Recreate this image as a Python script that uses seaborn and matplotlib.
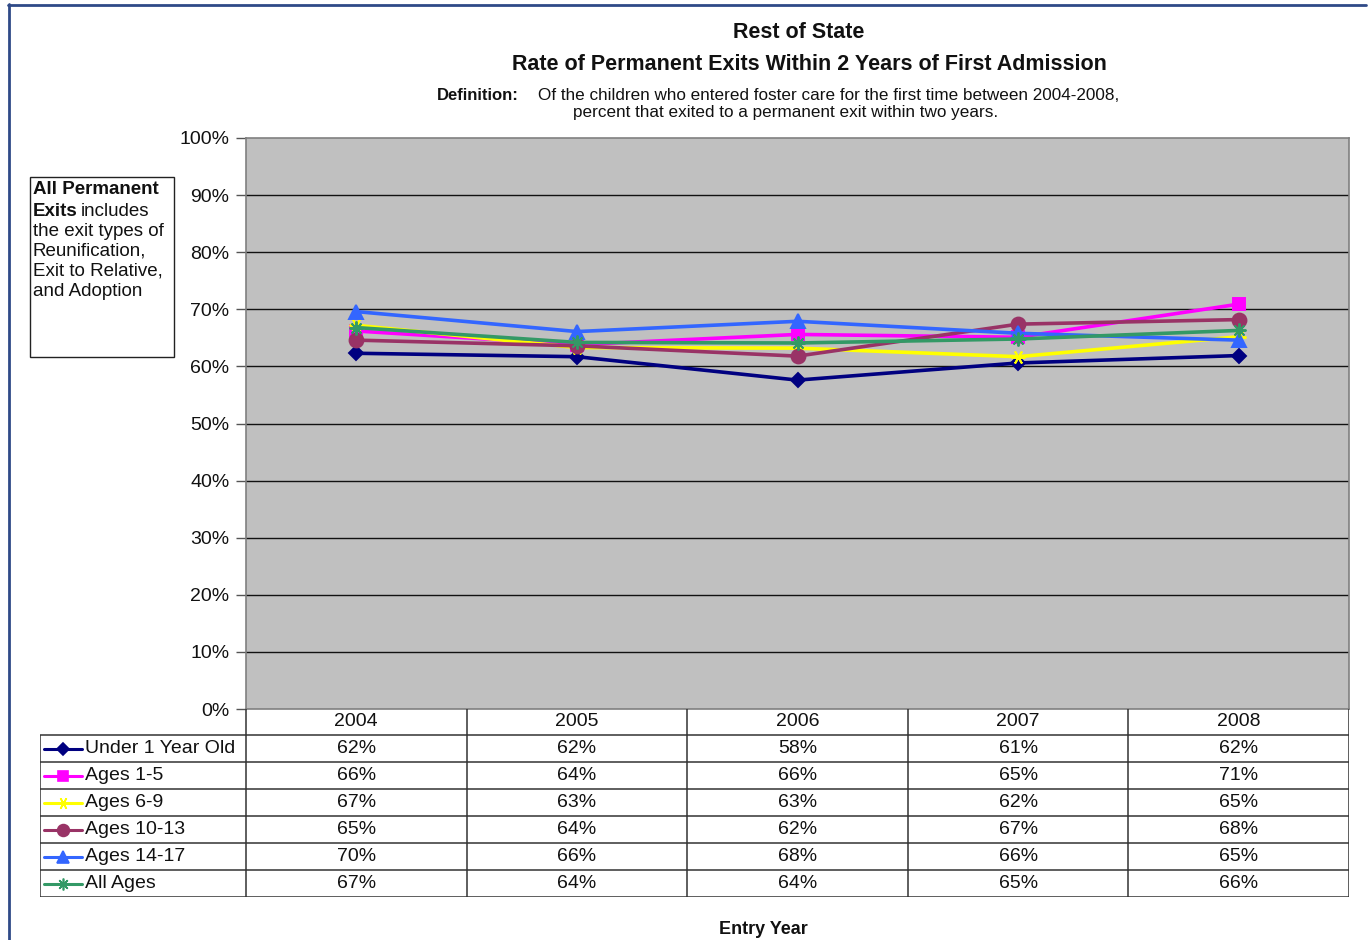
import numpy as np
import pandas as pd
import matplotlib
matplotlib.use("Agg")
import matplotlib.pyplot as plt
from matplotlib.lines import Line2D
from matplotlib.patches import Rectangle
import seaborn as sns

# ---- data -------------------------------------------------------------
years = ["2004", "2005", "2006", "2007", "2008"]
series_names = ["Under 1 Year Old", "Ages 1-5", "Ages 6-9",
                "Ages 10-13", "Ages 14-17", "All Ages"]
under_1 = [62.3, 61.7, 57.6, 60.6, 61.9]
ages_1_5 = [66.2, 63.8, 65.6, 65.1, 70.9]
ages_6_9 = [67.2, 63.3, 63.2, 61.7, 65.2]
ages_10_13 = [64.6, 63.6, 61.8, 67.4, 68.2]
ages_14_17 = [69.6, 66.1, 67.9, 65.8, 64.6]
all_ages = [66.8, 64.2, 64.1, 64.8, 66.3]
y_ticks = [0, 10, 20, 30, 40, 50, 60, 70, 80, 90, 100]

values = [under_1, ages_1_5, ages_6_9, ages_10_13, ages_14_17, all_ages]

# ---- styling ----------------------------------------------------------
colors = ["#000080", "#FF00FF", "#FFFF00", "#993366", "#3366FF", "#339966"]
markers = ["D", "s", (6, 2, 90), "o", "^", (8, 2, 0)]
msizes = [7, 9, 10, 10, 10, 10]

sns.set_style("white")
plt.rcParams["font.family"] = ["Liberation Sans", "DejaVu Sans"]

W, H = 1368, 940
fig = plt.figure(figsize=(W / 100, H / 100), dpi=100)
fig.patch.set_facecolor("white")


def fx(px):
    return px / W


def fy(py):
    return 1 - py / H


TXT = "#111111"
TABLE_FS = 14

# ---- main line chart --------------------------------------------------
px_l, px_r, py_t, py_b = 246, 1349, 138, 709
ax = fig.add_axes([fx(px_l), fy(py_b), fx(px_r - px_l), (py_b - py_t) / H])
ax.set_facecolor("#C0C0C0")

frames = []
for name, vals in zip(series_names, values):
    frames.append(pd.DataFrame({"series": name,
                                "pos": np.arange(len(years)),
                                "rate": vals}))
df = pd.concat(frames, ignore_index=True)

for name, col, mk, ms in zip(series_names, colors, markers, msizes):
    sub = df[df["series"] == name]
    sns.lineplot(data=sub, x="pos", y="rate", ax=ax, color=col,
                 linewidth=2.6, marker=mk, markersize=ms,
                 markeredgecolor=col, markerfacecolor=col,
                 markeredgewidth=1.4, legend=False, zorder=3)

ax.set_xlim(-0.5, len(years) - 0.5)
ax.set_ylim(0, 100)
ax.set_xticks([])
ax.set_yticks(y_ticks)
ax.set_yticklabels([f"{t}%" for t in y_ticks], fontsize=TABLE_FS, color=TXT)
ax.tick_params(axis="y", length=7, width=1, color="#555555", pad=5, left=True)
ax.set_xlabel("")
ax.set_ylabel("")
for t in y_ticks[1:-1]:
    ax.axhline(t, color="#111111", linewidth=1.0, zorder=1)
for sp in ax.spines.values():
    sp.set_color("#808080")
    sp.set_linewidth(1.2)

# ---- data table below the chart ---------------------------------------
tx_l, ty_t, ty_b = 40, 709, 897
tax = fig.add_axes([fx(tx_l), fy(ty_b), fx(px_r - tx_l), (ty_b - ty_t) / H])
tax.set_xlim(tx_l, px_r)
tax.set_ylim(ty_b, ty_t)
tax.axis("off")

col_edges = np.linspace(px_l, px_r, len(years) + 1)
row_h = 27
row_tops = [ty_t + 26 + i * row_h for i in range(len(series_names) + 1)]
line_kw = dict(color="#333333", linewidth=1.1, solid_capstyle="butt")

# header row: vertical separators only under the plot area
for xe in col_edges:
    tax.add_line(Line2D([xe, xe], [ty_t, ty_b], **line_kw))
for i, yr in enumerate(years):
    tax.text((col_edges[i] + col_edges[i + 1]) / 2, ty_t + 13, yr,
             ha="center", va="center", fontsize=TABLE_FS, color=TXT)

# body rows
tax.add_line(Line2D([tx_l, tx_l], [row_tops[0], ty_b], **line_kw))
for yt in row_tops:
    tax.add_line(Line2D([tx_l, px_r], [yt, yt], **line_kw))

for r, (name, vals, col, mk, ms) in enumerate(
        zip(series_names, values, colors, markers, msizes)):
    yc = row_tops[r] + row_h / 2
    tax.plot([44, 63, 82], [yc, yc, yc], color=col, linewidth=2.2,
             marker=mk, markevery=[1], markersize=ms * 0.85,
             markerfacecolor=col, markeredgecolor=col, markeredgewidth=1.2)
    tax.text(85, yc, name, ha="left", va="center", fontsize=TABLE_FS,
             color=TXT)
    for i, v in enumerate(vals):
        tax.text((col_edges[i] + col_edges[i + 1]) / 2, yc,
                 f"{int(np.floor(v + 0.5))}%", ha="center", va="center",
                 fontsize=TABLE_FS, color=TXT)

# ---- titles -----------------------------------------------------------
fig.text(fx(799), fy(32), "Rest of State", ha="center", va="center",
         fontsize=15.5, fontweight="bold", color=TXT)
fig.text(fx(809), fy(65),
         "Rate of Permanent Exits Within 2 Years of First Admission",
         ha="center", va="center", fontsize=15.5, fontweight="bold",
         color=TXT)
fig.text(fx(437), fy(95), "Definition:", ha="left", va="center",
         fontsize=12, fontweight="bold", color=TXT)
fig.text(fx(538), fy(95),
         "Of the children who entered foster care for the first time between 2004-2008,",
         ha="left", va="center", fontsize=12.3, color=TXT)
fig.text(fx(786), fy(113),
         "percent that exited to a permanent exit within two years.",
         ha="center", va="center", fontsize=12.3, color=TXT)
fig.text(fx(763), fy(929), "Entry Year", ha="center", va="center",
         fontsize=13, fontweight="bold", color=TXT)

# ---- side note box ----------------------------------------------------
fig.patches.append(Rectangle((fx(30), fy(357)), fx(174 - 30), (357 - 177) / H,
                             transform=fig.transFigure, facecolor="white",
                             edgecolor="#222222", linewidth=1.0))
note_fs = 13.5
lines_y = [190, 211, 231, 251, 271, 292]
fig.text(fx(33), fy(lines_y[0]), "All Permanent", ha="left", va="center",
         fontsize=note_fs, fontweight="bold", color=TXT)
fig.text(fx(33), fy(lines_y[1]), "Exits", ha="left", va="center",
         fontsize=note_fs, fontweight="bold", color=TXT)
fig.text(fx(81), fy(lines_y[1]), "includes", ha="left", va="center",
         fontsize=note_fs, color=TXT)
for yy, txt in zip(lines_y[2:], ["the exit types of", "Reunification,",
                                  "Exit to Relative,", "and Adoption"]):
    fig.text(fx(33), fy(yy), txt, ha="left", va="center",
             fontsize=note_fs, color=TXT)

# ---- outer frame (top and left edges) ---------------------------------
fig.add_artist(Line2D([fx(8), fx(1366)], [fy(4.5), fy(4.5)],
                      transform=fig.transFigure, color="#2F4A87", linewidth=2))
fig.add_artist(Line2D([fx(8.5), fx(8.5)], [fy(4), fy(940)],
                      transform=fig.transFigure, color="#2F4A87", linewidth=2))

fig.savefig("out.png", dpi=100, facecolor="white")
